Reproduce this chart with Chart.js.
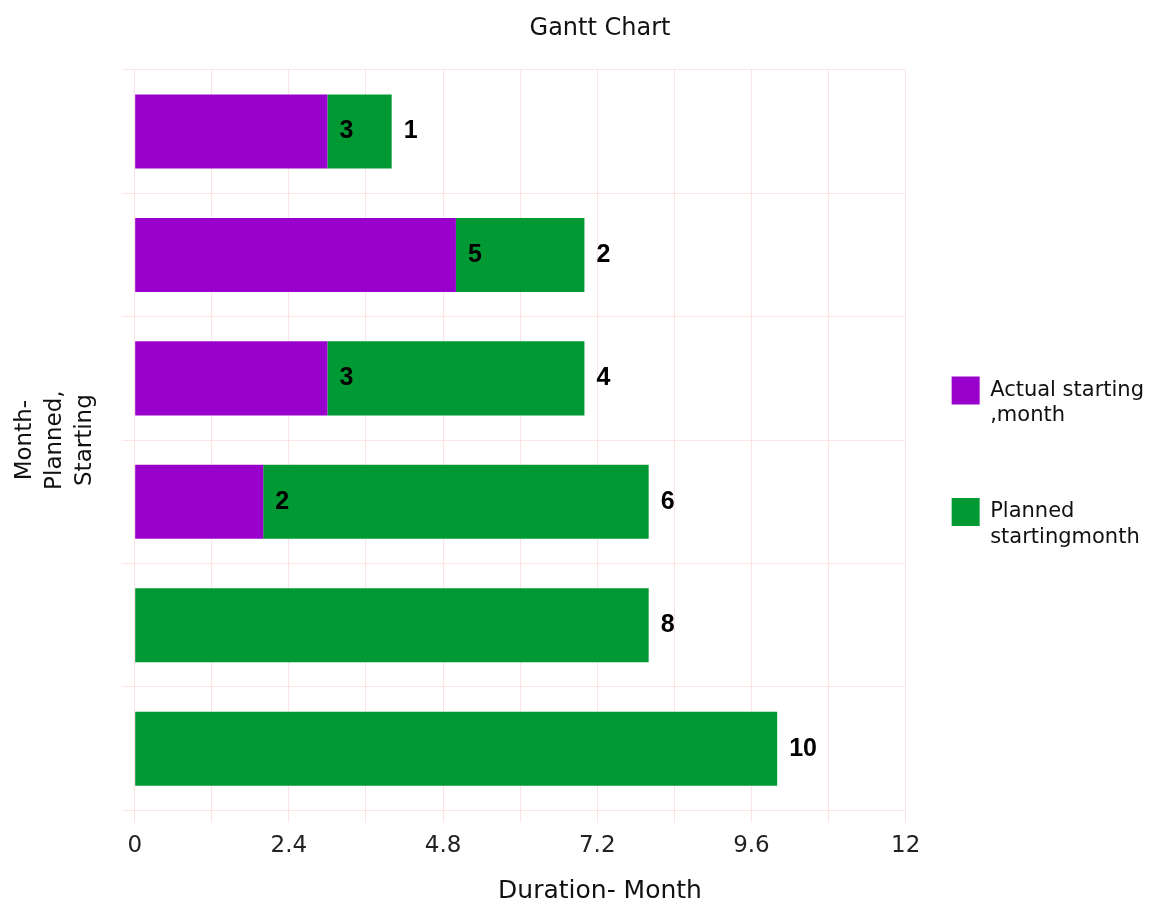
<!DOCTYPE html>
<html>
<head>
<meta charset="utf-8">
<script src="https://cdn.jsdelivr.net/npm/chart.js@4"></script>
<style>
  body { margin: 0; background: #fff; }
  #wrap { width: 1151px; height: 906px; }
</style>
</head>
<body>
<div id="wrap"><canvas id="gantt" width="1151" height="906"></canvas></div>
<script>
// data
const tasks = ['Task 1', 'Task 2', 'Task 3', 'Task 4', 'Task 5', 'Task 6'];
const actualStart = [3, 5, 3, 2, 0, 0];
const plannedStart = [1, 2, 4, 6, 8, 10];
const xTickLabels = ['0', '2.4', '4.8', '7.2', '9.6', '12'];
const legendLines = [['Actual starting', ',month', ''], ['Planned', 'startingmonth', '']];
const chartTitle = 'Gantt Chart';
const xTitle = 'Duration- Month';

const gridPink = '#fde3e3';
const font = 'DejaVu Sans';
const titleCenterX = 600; // the original centres both titles a bit right of the plot

// value labels at the end of each bar
const valueLabels = {
  id: 'valueLabels',
  afterDatasetsDraw(chart) {
    const ctx = chart.ctx;
    ctx.save();
    ctx.font = 'bold 25px Liberation Sans';
    ctx.fillStyle = '#000';
    ctx.textBaseline = 'middle';
    ctx.textAlign = 'left';
    chart.data.datasets.forEach((ds, i) => {
      const meta = chart.getDatasetMeta(i);
      meta.data.forEach((bar, j) => {
        const v = ds.data[j];
        if (!v) return;
        ctx.fillText(String(v), bar.x + 12, bar.y);
      });
    });
    ctx.restore();
  }
};

// chart title and x title, drawn off-centre like the original
// (the built-in ones stay transparent and only reserve the room)
const shiftedTitles = {
  id: 'shiftedTitles',
  afterDraw(chart) {
    const ctx = chart.ctx;
    ctx.save();
    ctx.fillStyle = '#111';
    ctx.textAlign = 'center';
    ctx.textBaseline = 'middle';
    const tb = chart.titleBlock;
    ctx.font = '24px ' + font;
    ctx.fillText(chartTitle, titleCenterX, tb.top + 10 + 24 * 1.2 / 2);
    ctx.font = '25px ' + font;
    ctx.fillText(xTitle, titleCenterX, chart.scales.x.bottom - 25 * 1.2 / 2);
    ctx.restore();
  }
};

new Chart(document.getElementById('gantt').getContext('2d'), {
  type: 'bar',
  data: {
    labels: tasks,
    datasets: [
      {
        label: 'Actual starting ,month',
        data: actualStart,
        backgroundColor: '#9900cc',
        borderWidth: 0,
        categoryPercentage: 0.6,
        barPercentage: 1,
      },
      {
        label: 'Planned startingmonth',
        data: plannedStart,
        backgroundColor: '#009933',
        borderWidth: 0,
        categoryPercentage: 0.6,
        barPercentage: 1,
      },
    ],
  },
  options: {
    indexAxis: 'y',
    responsive: false,
    animation: false,
    layout: { padding: { left: 10, right: -3, top: 4, bottom: 0 } },
    scales: {
      x: {
        stacked: true,
        min: 0,
        max: 12,
        grid: { color: gridPink, tickLength: 12 },
        border: { color: gridPink },
        ticks: {
          stepSize: 1.2,
          autoSkip: false,
          maxRotation: 0,
          color: '#222',
          font: { family: font, size: 23 },
          padding: 10,
          callback: (v, i) => (i % 2 ? '' : xTickLabels[i / 2]),
        },
        title: {
          display: true,
          text: xTitle,
          color: 'transparent',
          font: { family: font, size: 25 },
          padding: { top: 6, bottom: 0 },
        },
      },
      y: {
        stacked: true,
        grid: { color: gridPink, tickLength: 12 },
        border: { color: gridPink },
        ticks: { callback: () => '', padding: 0 },
        title: {
          display: true,
          text: ['Month-', 'Planned,', 'Starting'],
          color: '#111',
          font: { family: font, size: 23, lineHeight: 1.3 },
          padding: { top: 0, bottom: 23 },
        },
      },
    },
    plugins: {
      title: {
        display: true,
        text: chartTitle,
        color: 'transparent',
        font: { family: font, size: 24, weight: 'normal' },
        padding: { top: 10, bottom: 27 },
      },
      tooltip: { enabled: false },
      legend: {
        position: 'right',
        title: { display: true, text: ' ', color: 'transparent', font: { size: 10 }, padding: { top: 28, bottom: 0 } },
        labels: {
          boxWidth: 28,
          boxHeight: 28,
          padding: 46,
          color: '#111',
          font: { family: font, size: 21, lineHeight: 1.2 },
          generateLabels: (chart) =>
            chart.data.datasets.map((ds, i) => ({
              text: legendLines[i],
              fillStyle: ds.backgroundColor,
              strokeStyle: ds.backgroundColor,
              fontColor: '#111',
              lineWidth: 0,
              datasetIndex: i,
            })),
        },
      },
    },
  },
  plugins: [valueLabels, shiftedTitles],
});
</script>
</body>
</html>
